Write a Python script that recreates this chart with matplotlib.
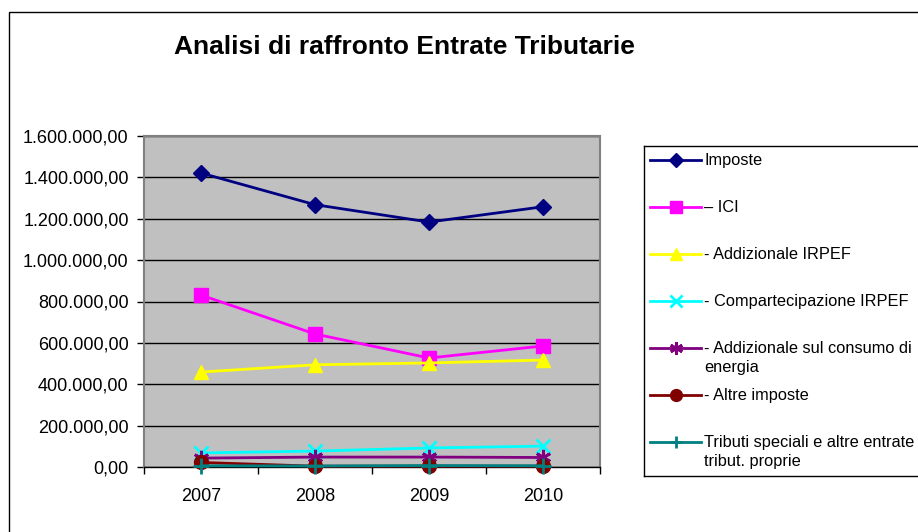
import matplotlib.pyplot as plt
from matplotlib.patches import Rectangle
from matplotlib.ticker import FuncFormatter

plt.rcParams['font.family'] = ['Liberation Sans', 'DejaVu Sans']

years = ['2007', '2008', '2009', '2010']

imposte = [1421000, 1268000, 1184000, 1258000]
ici = [831000, 643000, 527000, 585000]
add_irpef = [459000, 494000, 503000, 517000]
comp_irpef = [68000, 77000, 92000, 101000]
add_energia = [43000, 48000, 48000, 46000]
altre = [22000, 4000, 4000, 4000]
tributi = [6000, 5000, 7000, 6000]

labels = ['Imposte', '\u2013 ICI', '- Addizionale IRPEF', '- Compartecipazione IRPEF',
          '- Addizionale sul consumo di\nenergia', '- Altre imposte',
          'Tributi speciali e altre entrate\ntribut. proprie']
series = [imposte, ici, add_irpef, comp_irpef, add_energia, altre, tributi]
colors = ['#000080', '#FF00FF', '#FFFF00', '#00FFFF', '#800080', '#800000', '#008080']
markers = ['D', 's', '^', 'x', (6, 2, 0), 'o', '+']
msizes = [8, 10, 10, 10, 11, 10, 11]
mew = [1, 1, 1, 2, 2, 1, 2]

fig = plt.figure(figsize=(9.18, 5.32), dpi=100)
fig.patches.append(Rectangle((9 / 918, -0.5), 2, 0.5 + 1 - 12 / 532, transform=fig.transFigure,
                             fill=False, edgecolor='black', linewidth=1))

ax = fig.add_axes([144 / 918, 65 / 532, 456 / 918, 331 / 532])
ax.set_facecolor('#C0C0C0')
x = range(len(years))
for vals, c, m, ms, w in zip(series, colors, markers, msizes, mew):
    ax.plot(x, vals, color=c, marker=m, markersize=ms, markeredgewidth=w,
            markeredgecolor=c, markerfacecolor=c, linewidth=2, zorder=3, clip_on=False)

ax.set_xlim(-0.5, 3.5)
ax.set_ylim(0, 1600000)
ax.set_yticks(range(0, 1600001, 200000))
ax.yaxis.set_major_formatter(FuncFormatter(
    lambda v, p: f"{v:,.2f}".replace(',', 'X').replace('.', ',').replace('X', '.')))
ax.set_xticks([-0.5, 0.5, 1.5, 2.5, 3.5])
ax.set_xticklabels([])
ax.set_xticks(list(x), minor=True)
ax.set_xticklabels(years, minor=True)
ax.tick_params(axis='x', which='minor', length=0, pad=15, labelsize=13)
ax.tick_params(axis='x', which='major', length=5, width=1, color='black')
ax.tick_params(axis='y', length=5, width=1, color='black', labelsize=13, pad=6)
ax.grid(axis='y', color='black', linewidth=1, zorder=1)
ax.set_axisbelow(True)
for s in ax.spines.values():
    s.set_color('#808080')
    s.set_linewidth(1.5)
ax.spines['bottom'].set_color('black')
ax.spines['bottom'].set_linewidth(1)

fig.text(404 / 918, 1 - 47 / 532, 'Analisi di raffronto Entrate Tributarie',
         ha='center', va='center', fontsize=19, fontweight='bold')

# legend
lg = fig.add_axes([644 / 918, 56 / 532, 300 / 918, 330 / 532])
lg.set_xlim(0, 300)
lg.set_ylim(330, 0)
lg.set_xticks([])
lg.set_yticks([])
for s in lg.spines.values():
    s.set_color('black')
    s.set_linewidth(1)
for i, (lab, c, m, ms, w) in enumerate(zip(labels, colors, markers, msizes, mew)):
    y = 14 + i * 47
    lg.plot([6, 57], [y, y], color=c, linewidth=2)
    lg.plot([31.5], [y], color=c, marker=m, markersize=ms * 0.85, markeredgewidth=w,
            markerfacecolor=c, markeredgecolor=c)
    lg.text(60, y - 7, lab, ha='left', va='top', fontsize=11.8, linespacing=1.3)

fig.savefig('out.png', dpi=100)
